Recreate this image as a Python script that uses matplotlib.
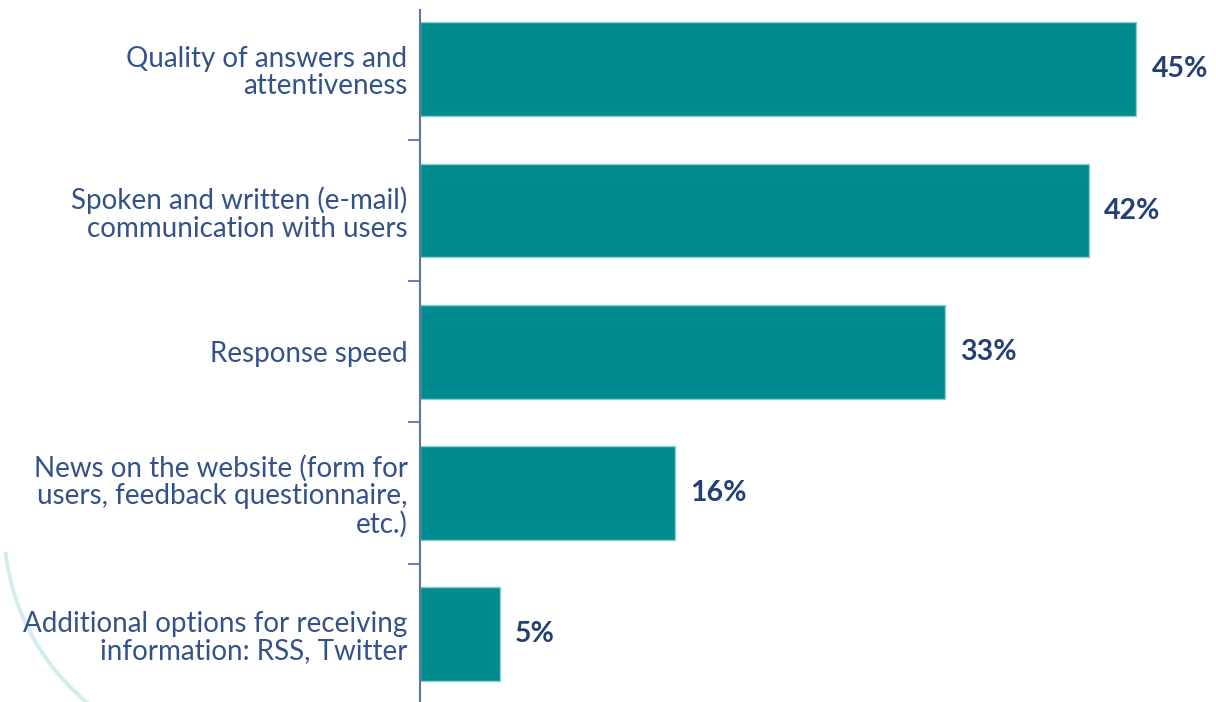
import numpy as np
import matplotlib
matplotlib.use("Agg")
import matplotlib.pyplot as plt
from matplotlib.lines import Line2D

categories = [
    "Quality of answers and\nattentiveness",
    "Spoken and written (e-mail)\ncommunication with users",
    "Response speed",
    "News on the website (form for\nusers, feedback questionnaire,\netc.)",
    "Additional options for receiving\ninformation: RSS, Twitter",
]
shares = [45, 42, 33, 16, 5]

BAR = "#008C8F"
TEXT = "#34528A"
VALUE = "#233F73"
AXIS = "#5D77A3"

plt.rcParams["font.family"] = ["Lato", "DejaVu Sans"]

W, H = 1216, 702
fig = plt.figure(figsize=(W / 100, H / 100), dpi=100)
fig.patch.set_facecolor("white")

# faint decorative arc in the lower-left corner
t = np.linspace(np.radians(187), np.radians(232), 80)
cx, cy, r = 233, 526, 229
px = cx + r * np.cos(t)
py = cy - r * np.sin(t)
fig.add_artist(Line2D(px / W, 1 - py / H, color="#D3EDEE", lw=2.8,
                      transform=fig.transFigure, zorder=0))

ax = fig.add_axes([420 / W, 0, 1 - 420 / W, 1 - 10 / H])
ax.set_facecolor("none")

y = np.arange(len(categories))
ax.barh(y, shares, height=0.665, color=BAR, edgecolor="#8DCFD0", linewidth=1)

for yi, v in zip(y, shares):
    ax.text(v + 0.95, yi, f"{v}%", va="center", ha="left", fontsize=20.5,
            fontweight="bold", color=VALUE)

ax.set_xlim(0, 50)
ax.set_ylim(4.48, -0.42)

ax.set_yticks(y)
ax.set_yticklabels(categories, fontsize=20, color=TEXT, linespacing=1.08)
ax.tick_params(axis="y", which="major", length=0, pad=9)
ax.set_yticks(y[:-1] + 0.5, minor=True)
ax.tick_params(axis="y", which="minor", length=9, width=1.3, color=AXIS,
               direction="out")
ax.set_xticks([])

for s in ("top", "right", "bottom"):
    ax.spines[s].set_visible(False)
ax.spines["left"].set_color(AXIS)
ax.spines["left"].set_linewidth(1.5)

fig.savefig("out.png", dpi=100)
